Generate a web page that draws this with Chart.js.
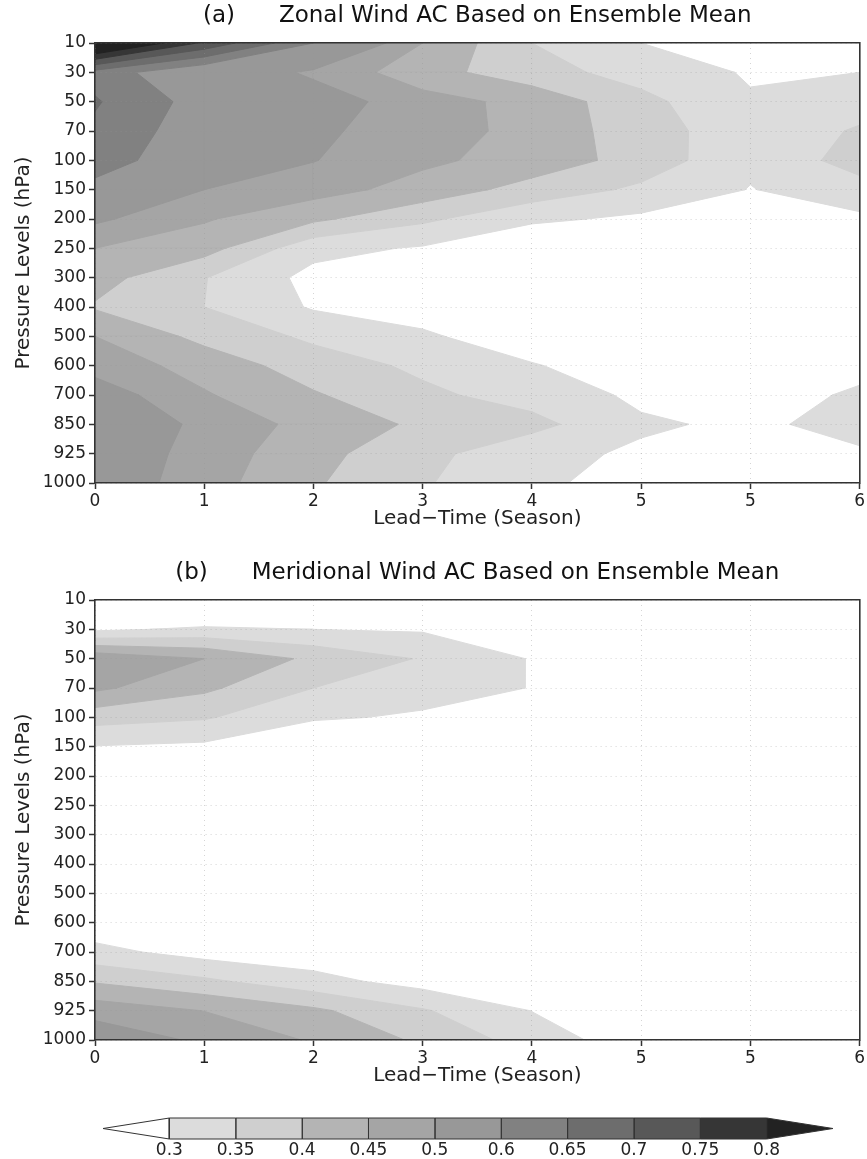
<!DOCTYPE html>
<html><head><meta charset="utf-8">
<script src="https://cdn.jsdelivr.net/npm/chart.js@4.4.1/dist/chart.umd.min.js"></script>
<style>
html,body{margin:0;padding:0;background:#fff;}
body{width:867px;height:1159px;position:relative;overflow:hidden;}
canvas{position:absolute;left:0;}
</style></head><body>
<canvas id="ca" width="867" height="540" style="top:0px"></canvas>
<canvas id="cb" width="867" height="540" style="top:557px"></canvas>
<canvas id="cc" width="867" height="62" style="top:1097px"></canvas>
<script>
// ---- data ----
const LEAD_LABELS = ['0','1','2','3','4','5','5','6'];
const PRESSURE_LEVELS = ['10','30','50','70','100','150','200','250','300','400','500','600','700','850','925','1000'];
const CONTOUR_LEVELS = [0.3,0.35,0.4,0.45,0.5,0.6,0.65,0.7,0.75,0.8];
const CONTOUR_LABELS = ['0.3','0.35','0.4','0.45','0.5','0.6','0.65','0.7','0.75','0.8'];

// rows: pressure levels (10 ... 1000 hPa), columns: lead times
const ZONAL_AC = [
  [0.90, 0.74, 0.60, 0.45, 0.35, 0.30, 0.27, 0.28],
  [0.63, 0.55, 0.49, 0.42, 0.37, 0.33, 0.295, 0.30],
  [0.655, 0.578, 0.53, 0.47, 0.435, 0.365, 0.305, 0.33],
  [0.64, 0.569, 0.51, 0.474, 0.434, 0.373, 0.32, 0.355],
  [0.63, 0.553, 0.502, 0.46, 0.43, 0.38, 0.31, 0.3715],
  [0.58, 0.50, 0.47, 0.43, 0.38, 0.34, 0.298, 0.33],
  [0.51, 0.455, 0.41, 0.36, 0.31, 0.29, 0.28, 0.29],
  [0.45, 0.42, 0.315, 0.295, 0.25, 0.24, 0.25, 0.25],
  [0.42, 0.352, 0.285, 0.27, 0.24, 0.22, 0.23, 0.24],
  [0.395, 0.35, 0.295, 0.27, 0.24, 0.22, 0.23, 0.24],
  [0.45, 0.385, 0.34, 0.31, 0.26, 0.23, 0.23, 0.24],
  [0.48, 0.43, 0.375, 0.34, 0.305, 0.26, 0.25, 0.28],
  [0.53, 0.455, 0.405, 0.36, 0.33, 0.29, 0.27, 0.31],
  [0.555, 0.486, 0.4326, 0.3906, 0.365, 0.307, 0.291, 0.316],
  [0.545, 0.478, 0.416, 0.3646, 0.316, 0.292, 0.27, 0.294],
  [0.541, 0.471, 0.4056, 0.3554, 0.306, 0.288, 0.26, 0.28]
];
const MERID_AC = [
  [0.20, 0.20, 0.19, 0.18, 0.17, 0.16, 0.15, 0.15],
  [0.29, 0.31, 0.30, 0.295, 0.25, 0.20, 0.18, 0.17],
  [0.49, 0.45, 0.389, 0.346, 0.297, 0.24, 0.20, 0.18],
  [0.46, 0.41, 0.35, 0.33, 0.298, 0.24, 0.20, 0.18],
  [0.37, 0.355, 0.31, 0.29, 0.25, 0.22, 0.19, 0.18],
  [0.298, 0.29, 0.22, 0.22, 0.20, 0.19, 0.18, 0.17],
  [0.22, 0.20, 0.19, 0.18, 0.17, 0.16, 0.16, 0.15],
  [0.20, 0.19, 0.18, 0.17, 0.16, 0.15, 0.15, 0.15],
  [0.19, 0.18, 0.17, 0.16, 0.15, 0.15, 0.14, 0.14],
  [0.20, 0.18, 0.17, 0.16, 0.15, 0.14, 0.14, 0.14],
  [0.22, 0.20, 0.18, 0.17, 0.16, 0.15, 0.14, 0.14],
  [0.268, 0.24, 0.21, 0.19, 0.17, 0.16, 0.15, 0.15],
  [0.315, 0.28, 0.27, 0.24, 0.21, 0.19, 0.17, 0.16],
  [0.395, 0.36, 0.317, 0.28, 0.25, 0.22, 0.19, 0.18],
  [0.48, 0.449, 0.41, 0.355, 0.299, 0.25, 0.21, 0.19],
  [0.539, 0.49, 0.445, 0.391, 0.328, 0.27, 0.22, 0.20]
];

// ---- styles ----
const SHADES = ['#dcdcdc','#cfcfcf','#b4b4b4','#a5a5a5','#989898','#818181','#6d6d6d','#585858','#363636','#222222'];
const FONT = "'DejaVu Sans', sans-serif";
const INK = '#222';
const FRAME = '#333';

Chart.defaults.font.family = FONT;
Chart.defaults.color = INK;

// region v >= level inside each grid cell (linear interpolation along cell edges)
function levelRegion(grid, level) {
  const out = [];
  const nj = grid.length, ni = grid[0].length;
  for (let j = 0; j < nj - 1; j++) {
    for (let i = 0; i < ni - 1; i++) {
      const c = [[i, j], [i + 1, j], [i + 1, j + 1], [i, j + 1]];
      const v = c.map(p => grid[p[1]][p[0]]);
      const poly = [];
      for (let k = 0; k < 4; k++) {
        const k2 = (k + 1) % 4;
        const a = v[k] >= level, b = v[k2] >= level;
        if (a) poly.push({x: c[k][0], y: c[k][1]});
        if (a !== b) {
          const t = (level - v[k]) / (v[k2] - v[k]);
          poly.push({x: c[k][0] + t * (c[k2][0] - c[k][0]), y: c[k][1] + t * (c[k2][1] - c[k][1])});
        }
      }
      if (poly.length >= 3) {
        poly.push({x: poly[0].x, y: poly[0].y});
        for (const p of poly) out.push(p);
        out.push({x: null, y: null});
      }
    }
  }
  return out;
}

function contourChart(canvasId, grid, titleText) {
  const datasets = CONTOUR_LEVELS.map((lv, k) => ({
    data: levelRegion(grid, lv),
    fill: 'shape',
    backgroundColor: SHADES[k],
    borderColor: SHADES[k],
    borderWidth: 1,
    pointRadius: 0,
    tension: 0,
    spanGaps: false,
    order: 100 - k
  }));
  const tickFont = {family: FONT, size: 17};
  return new Chart(document.getElementById(canvasId), {
    type: 'line',
    data: {datasets},
    options: {
      responsive: false, animation: false, devicePixelRatio: 1,
      layout: {padding: 0},
      plugins: {
        legend: {display: false}, tooltip: {enabled: false},
        title: {display: true, text: titleText, fullSize: false, color: '#111',
                font: {family: FONT, size: 23, weight: 'normal', lineHeight: 1.15}, padding: {top: 3, bottom: 0}}
      },
      scales: {
        x: {
          type: 'linear', position: 'bottom', min: 0, max: LEAD_LABELS.length - 1,
          ticks: {stepSize: 1, autoSkip: false, maxRotation: 0, padding: 2, font: tickFont, color: INK,
                  callback: v => LEAD_LABELS[v]},
          grid: {color: 'rgba(150,150,150,0.4)', lineWidth: 1, z: 1, drawTicks: true, tickLength: 6,
                 tickColor: FRAME, tickWidth: 1.5},
          border: {display: true, color: FRAME, width: 1.6, dash: [1, 4], z: 2},
          title: {display: true, text: 'Lead\u2212Time (Season)', color: INK,
                  font: {family: FONT, size: 20}, padding: {top: 0, bottom: 9}},
          afterFit: s => { s.height = 57; }
        },
        y: {
          type: 'linear', position: 'left', min: 0, max: PRESSURE_LEVELS.length - 1, reverse: true,
          ticks: {stepSize: 1, autoSkip: false, padding: 3, font: tickFont, color: INK,
                  callback: v => PRESSURE_LEVELS[v]},
          grid: {color: 'rgba(150,150,150,0.4)', lineWidth: 1, z: 1, drawTicks: true, tickLength: 6,
                 tickColor: FRAME, tickWidth: 1.5},
          border: {display: true, color: FRAME, width: 1.6, dash: [1, 4], z: 2},
          title: {display: true, text: 'Pressure Levels (hPa)', color: INK,
                  font: {family: FONT, size: 20}, padding: {top: 12, bottom: 0}},
          afterFit: s => { s.width = 95; }
        },
        x2: {
          type: 'linear', position: 'top', min: 0, max: LEAD_LABELS.length - 1,
          ticks: {display: false}, grid: {display: false, drawTicks: false},
          border: {display: true, color: FRAME, width: 1.6, z: 2},
          afterFit: s => { s.height = 43 - (23 * 1.15 + 3); }
        },
        y2: {
          type: 'linear', position: 'right', min: 0, max: PRESSURE_LEVELS.length - 1,
          ticks: {display: false}, grid: {display: false, drawTicks: false},
          border: {display: true, color: FRAME, width: 1.6, z: 2},
          afterFit: s => { s.width = 3; }
        }
      }
    }
  });
}

contourChart('ca', ZONAL_AC, '(a)      Zonal Wind AC Based on Ensemble Mean');
contourChart('cb', MERID_AC, '(b)      Meridional Wind AC Based on Ensemble Mean');

// ---- colour bar ----
(function () {
  const n = CONTOUR_LEVELS.length; // 10 boundaries -> 9 boxes + 2 end triangles
  const ds = [];
  for (let k = 0; k < n - 1; k++) {
    ds.push({data: [{x: k, y: 0}, {x: k + 1, y: 0}, {x: k + 1, y: 1}, {x: k, y: 1}, {x: k, y: 0}],
             backgroundColor: SHADES[k]});
  }
  ds.push({data: [{x: 0, y: 0}, {x: -1, y: 0.5}, {x: 0, y: 1}, {x: 0, y: 0}], backgroundColor: '#ffffff'});
  ds.push({data: [{x: n - 1, y: 0}, {x: n, y: 0.5}, {x: n - 1, y: 1}, {x: n - 1, y: 0}], backgroundColor: SHADES[n - 1]});
  ds.forEach(d => Object.assign(d, {fill: 'shape', borderColor: FRAME, borderWidth: 1, pointRadius: 0, tension: 0, clip: false}));
  new Chart(document.getElementById('cc'), {
    type: 'line',
    data: {datasets: ds},
    options: {
      responsive: false, animation: false, devicePixelRatio: 1,
      layout: {padding: {left: 103, right: 34, top: 21, bottom: 0}},
      plugins: {legend: {display: false}, tooltip: {enabled: false}},
      scales: {
        x: {type: 'linear', min: -1, max: n, position: 'bottom',
            ticks: {stepSize: 1, autoSkip: false, maxRotation: 0, padding: 1,
                    font: {family: FONT, size: 17}, color: INK,
                    callback: v => (v >= 0 && v < n) ? CONTOUR_LABELS[v] : ''},
            grid: {display: false, drawTicks: false}, border: {display: false},
            afterFit: s => { s.height = 20; }},
        y: {type: 'linear', min: 0, max: 1, display: false}
      }
    }
  });
})();
</script>
</body></html>
